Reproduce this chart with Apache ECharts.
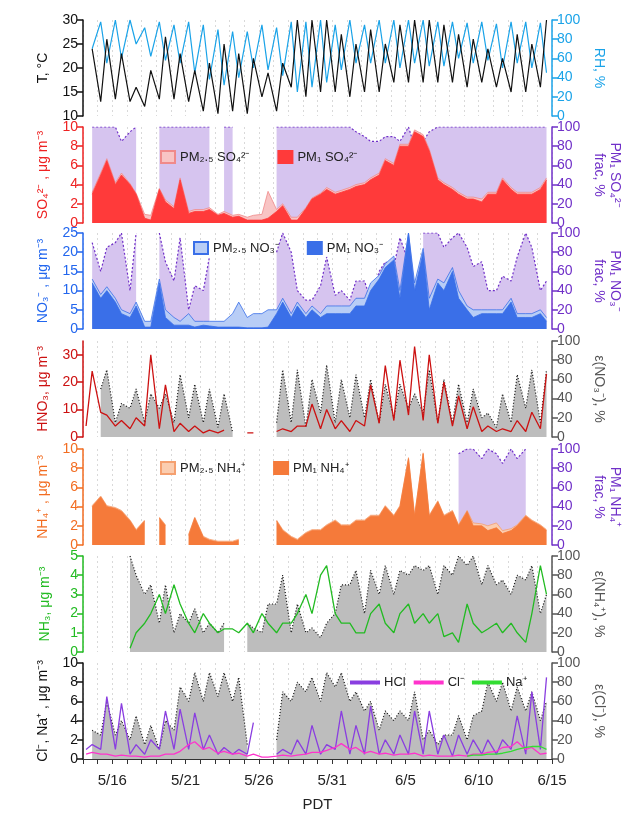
<!DOCTYPE html>
<html><head><meta charset="utf-8">
<script src="https://cdn.jsdelivr.net/npm/echarts@6/dist/echarts.min.js"></script>
<style>html,body{margin:0;padding:0;background:#fff}#c{width:635px;height:814px}</style>
</head><body><div id="c"></div>
<script>
// two samples per day (05:00 and 15:00 PDT), day 0 = 5/14
var tMin  = [null,13,13.5,13,12,13.5,13.5,13,11,10.5,11,10.5,14,11,16,14,15,15,14,15,15,17,17,17,17,17,16,17,16,15,15,16];
var tMax  = [24,26,23,16,19.5,26.5,23,19.5,21,25,23,22,19,21,30,30,30,27,25,28,25,29,30,30,29,27,26,24,22,27,25,30];
var rhMax = [null,98,100,100,92,98,95,98,95,90,88,88,95,92,98,98,100,95,100,95,100,100,100,100,98,98,97,98,96,98,98,97];
var rhMin = [70,55,60,75,62,58,55,45,38,32,40,50,48,42,25,30,35,48,55,55,55,50,55,52,52,60,55,58,50,55,50,45];

var so4A   = [null,5,4,4,0.5,3.5,1.5,1,1.2,0.8,0.6,0.3,0.3,1.2,0.3,1.5,3,3,3.5,4,5,6,8,9,4.5,3.5,2.5,2.2,3,3.5,3,3.5];
var so4B   = [3,6.5,5,3,0.3,2.2,4.5,1.2,1.4,1,0.7,0.3,0.5,1.8,0.3,2.5,3.5,3.2,3.8,4.5,6.5,8,9.5,7.5,4,3,2.5,3,4.5,3,3,4.5];
var so425A = [null,5.2,4.2,4.1,0.9,3.6,1.7,1.2,1.4,0.9,0.8,0.6,0.9,1.4,0.6,1.6,3.1,3.2,3.7,4.2,5.2,6.2,8.2,9.2,4.7,3.7,2.7,2.5,3.2,3.7,3.2,3.7];
var so425B = [3.2,6.7,5.2,3.1,0.8,2.4,4.7,1.4,1.6,1.2,0.9,0.8,3.3,2.0,0.6,2.6,3.7,3.4,4.0,4.7,6.7,8.2,9.7,7.7,4.2,3.2,2.7,3.2,4.7,3.2,3.2,4.7];
var so4FA  = [null,100,100,95,null,100,100,100,100,null,100,null,null,100,100,100,100,100,100,90,85,90,100,85,100,100,100,100,100,100,100,100];
var so4FB  = [100,100,85,100,null,100,100,100,100,100,null,null,null,100,100,100,100,100,95,85,90,85,80,95,100,100,100,100,100,100,100,100];

var no3A   = [null,8,7,3,0.5,12,1,1,1,0.5,0.5,0.3,0.3,4,3,3,3,4,4,6,13,18,25,20,12,15,5,4,4,7,3,4];
var no3B   = [12,10,4,6,0.5,3,1,0.5,0.8,0.5,0.5,0.3,0.5,7,6,5,4,4,6,10,16,8,10,5,10,8,3,4,4,3,3,2];
var no325A = [null,9,8,4,2,13,3,4,2,2,4,3,4,5,4,4,4,6,6,8,14,19,25,21,13,16,6,5,5,8,4,5];
var no325B = [13,11,5,7,2,5,2,2,2,2,7,4,5,8,7,6,6,6,8,12,17,10,12,8,12,10,5,5,5,4,4,3];
var no3FA  = [null,60,90,40,null,100,50,20,40,null,null,null,null,80,80,30,45,35,30,50,60,65,70,100,100,95,85,70,40,50,100,40];
var no3FB  = [90,85,100,100,null,70,95,45,75,60,null,null,null,100,40,30,75,40,50,30,70,95,null,100,85,100,65,40,55,75,85,50];

var hno3A  = [4,9,4,3,4,3,2,2,1.5,1.5,null,1.5,null,2,2,4,3,3,2,4,5,6,8,6,5,4,3,2,2,2,2,3];
var hno3B  = [24,8,6,7,30,19,5,4,2.5,2.5,null,1.5,null,3,4,12,10,6,6,19,26,28,33,30,20,15,11,4,3,6,9,23];
var eNo3A  = [null,50,15,30,15,30,15,20,15,10,5,null,null,15,15,10,25,15,20,20,15,20,30,25,15,15,15,20,10,15,30,15];
var eNo3B  = [null,70,35,50,45,45,65,55,50,45,null,null,null,70,70,60,75,60,65,60,55,55,45,70,60,55,50,25,45,65,70,70];

var nh4A   = [null,5,3.8,2.5,2.5,2.8,null,1,0.8,0.3,0.3,null,null,2.5,0.8,1.2,1.5,2.5,2,2.5,3,3,9,9.5,4.5,3.5,3.5,2,1.8,1.5,3,2];
var nh4B   = [4,4,3.5,1.5,null,2,null,2.8,0.5,0.3,0.5,null,null,1.5,0.5,1.5,2,2,2.5,3,4,4,3,3,3,2,2,1.5,1.2,2,2.5,1.5];
var nh425A = [null,5.1,3.9,2.6,2.6,2.9,null,1.1,0.9,0.4,0.4,null,null,2.6,0.9,1.3,1.6,2.6,2.1,2.6,3.1,3.1,9.1,9.6,4.6,3.6,3.6,2.2,2.3,1.7,3.1,2.1];
var nh425B = [4.1,4.1,3.6,1.6,null,2.1,null,2.9,0.6,0.4,0.6,null,null,1.6,0.6,1.6,2.1,2.1,2.6,3.1,4.1,4.1,3.1,3.1,3.1,2.1,2.3,2,1.5,2.1,2.6,1.6];
var nh4FA  = [null,null,null,null,null,null,null,null,null,null,null,null,null,null,null,null,null,null,null,null,null,null,null,null,null,null,100,90,95,100,100,90];
var nh4FB  = [null,null,null,null,null,null,null,null,null,null,null,null,null,null,null,null,null,null,null,null,null,null,null,null,null,95,100,100,85,90,null,null];

var nh3A   = [null,null,null,0.2,1.5,3,3.5,1.5,2,1,1.2,1.5,2,1,1.5,3,4,2,1.5,1,2.5,1,2.5,2,2,1,2.5,1,1.5,1.5,0.5,4.5];
var nh3B   = [null,null,null,1,2,2,2.5,1,1.5,1.2,1,1,1.5,1.5,2,2,4.5,1.5,1,2,1.5,2,1.5,1.5,0.8,0.5,1.5,1.2,1,1,2,3];
var eNh4A  = [null,null,null,100,60,30,20,30,20,20,null,30,20,50,20,20,15,40,70,40,60,60,80,85,60,80,90,70,70,60,75,40];
var eNh4B  = [null,null,null,80,70,70,40,45,30,30,null,25,50,80,50,25,30,70,85,85,90,85,90,90,90,100,100,90,75,80,90,60];

var hclA   = [1,1,1,0.5,0.5,1,1,1,1,0.5,0.5,0.5,null,0.5,0.5,0.5,0.5,1,0.5,0.5,0.5,0.5,0.5,0.5,0.5,0.3,0.5,0.5,0.5,1,0.5,1];
var hclB   = [1.5,6.5,5.8,1.5,2,5,5.2,4.8,2.5,1.2,1,3.8,null,1,2,3.5,1.5,5,3.5,5.5,2,2.5,5,5,2.5,2.5,2,2,2,4.5,7,8.5];
var clA    = [0.5,0.5,0.3,0.3,0.2,0.3,0.5,1.5,1,0.6,0.5,0.3,0.2,0.3,0.3,0.5,0.7,1.2,1,0.6,0.5,0.4,0.5,0.3,0.3,0.3,0.3,0.5,0.8,1.3,1,0.5];
var clB    = [0.7,0.5,0.4,0.3,0.3,0.5,0.8,1.8,1.2,0.8,0.6,0.5,0.2,0.4,0.4,0.7,0.9,1.6,1.2,0.8,0.6,0.5,0.6,0.4,0.3,0.4,0.5,0.7,1.2,1.8,1.2,0.6];
var naA    = [null,null,null,null,null,null,null,null,null,null,null,null,null,null,null,null,null,null,null,null,null,null,null,null,null,null,0.3,0.4,0.5,0.8,1.2,1.3];
var naB    = [null,null,null,null,null,null,null,null,null,null,null,null,null,null,null,null,null,null,null,null,null,null,null,null,null,null,0.4,0.5,0.6,1.0,1.3,1.0];
var eClA   = [null,25,25,20,15,10,30,60,60,65,60,15,null,20,60,70,60,75,60,50,30,40,40,20,15,25,20,50,60,50,50,40];
var eClB   = [30,60,40,45,35,40,75,90,90,90,85,null,null,70,80,85,90,90,70,60,50,50,70,30,25,45,45,80,80,75,70,60];

var DAY = 86400000;
var T0 = Date.UTC(2020, 4, 14), T1 = Date.UTC(2020, 5, 15);

function pairs(a, b) {
  var out = [];
  for (var i = 0; i < a.length; i++) {
    out.push([T0 + i * DAY + 5 * 3600000, a[i]]);
    out.push([T0 + i * DAY + 15 * 3600000, b[i]]);
  }
  return out;
}

var tops = [20, 127, 233, 341, 449, 556, 663];
var H = 96;
var grids = tops.map(function (t) { return { left: 83, right: 83, top: t, height: H }; });

var xAxes = tops.map(function (t, i) {
  var last = i === tops.length - 1;
  return {
    type: 'value', gridIndex: i, min: T0, max: T1, interval: DAY,
    axisLine: { show: last, lineStyle: { color: '#333' } },
    axisTick: { show: last, length: 5, lineStyle: { color: '#333' } },
    axisLabel: {
      show: last, fontSize: 15, color: '#222', margin: 14, fontFamily: 'Liberation Sans',
      formatter: function (v) {
        var k = Math.round((v - T0) / DAY);
        if ((k - 2) % 5 !== 0 || k < 2) return '';
        var d = new Date(v);
        return (d.getUTCMonth() + 1) + '/' + d.getUTCDate();
      }
    },
    splitLine: { show: true, lineStyle: { color: '#cfcfcf', type: [2, 3], width: 0.8 } },
    name: last ? 'PDT' : '', nameLocation: 'middle', nameGap: 38,
    nameTextStyle: { fontSize: 15, color: '#222', fontFamily: 'Liberation Sans' }
  };
});

function yAx(i, pos, min, max, step, color, name) {
  return {
    type: 'value', gridIndex: i, position: pos, min: min, max: max, interval: step,
    axisLine: { show: true, lineStyle: { color: color, width: 1.5 } },
    axisTick: { show: true, length: 6, lineStyle: { color: color, width: 1.5 } },
    axisLabel: { color: color, fontSize: 14, fontFamily: 'Liberation Sans', margin: 5, showMaxLabel: max % step === 0 },
    splitLine: { show: false },
    name: name, nameLocation: 'middle', nameGap: pos === 'left' ? 30 : 38,
    nameRotate: pos === 'left' ? 90 : -90,
    nameTextStyle: { color: color, fontSize: 14, fontFamily: 'Liberation Sans', lineHeight: 16 }
  };
}

var PUR = '#7030c8', LAV = '#d6c4ef', GR = '#555555', GA = '#bdbdbd';
var yAxes = [
  yAx(0, 'left', 10, 30, 5, '#111', 'T, °C'),
  yAx(0, 'right', 0, 100, 20, '#1aa3e8', 'RH, %'),
  yAx(1, 'left', 0, 10, 2, '#ee2222', 'SO₄²⁻ , μg m⁻³'),
  yAx(1, 'right', 0, 100, 20, PUR, 'PM₁ SO₄²⁻\nfrac, %'),
  yAx(2, 'left', 0, 25, 5, '#2266ee', 'NO₃⁻ , μg m⁻³'),
  yAx(2, 'right', 0, 100, 20, PUR, 'PM₁ NO₃⁻\nfrac, %'),
  yAx(3, 'left', 0, 35, 10, '#cc1111', 'HNO₃, μg m⁻³'),
  yAx(3, 'right', 0, 100, 20, GR, 'ε(NO₃⁻), %'),
  yAx(4, 'left', 0, 10, 2, '#f26d22', 'NH₄⁺ , μg m⁻³'),
  yAx(4, 'right', 0, 100, 20, PUR, 'PM₁ NH₄⁺\nfrac, %'),
  yAx(5, 'left', 0, 5, 1, '#22bb22', 'NH₃, μg m⁻³'),
  yAx(5, 'right', 0, 100, 20, GR, 'ε(NH₄⁺), %'),
  yAx(6, 'left', 0, 10, 2, '#111', 'Cl⁻, Na⁺ , μg m⁻³'),
  yAx(6, 'right', 0, 100, 20, GR, 'ε(Cl⁻), %')
];

function line(name, xi, yi, data, color, w, type, area, z) {
  var s = {
    name: name, type: 'line', xAxisIndex: xi, yAxisIndex: yi, data: data,
    showSymbol: false, symbol: 'none', smooth: false, z: z || 2,
    lineStyle: { color: color, width: w, type: type || 'solid' },
    itemStyle: { color: area || color, borderColor: color, borderWidth: 1 }
  };
  if (area) s.areaStyle = { color: area, opacity: 1 };
  return s;
}

var series = [
  line('RH', 0, 1, pairs(rhMax, rhMin), '#1aa3e8', 1.2),
  line('T', 0, 0, pairs(tMin, tMax), '#111', 1.2),

  line('fs', 1, 3, pairs(so4FA, so4FB), PUR, 1.2, [2, 2], LAV, 1),
  line('PM₂.₅ SO₄²⁻', 1, 2, pairs(so425A, so425B), '#f08a8a', 0.8, 'solid', '#f8c4c4', 2),
  line('PM₁ SO₄²⁻', 1, 2, pairs(so4A, so4B), '#ff3a3a', 0.8, 'solid', '#ff3a3a', 3),

  line('fn', 2, 5, pairs(no3FA, no3FB), PUR, 1.2, [2, 2], LAV, 1),
  line('PM₂.₅ NO₃⁻', 2, 4, pairs(no325A, no325B), '#3a6fe8', 0.8, 'solid', '#b8cdf6', 2),
  line('PM₁ NO₃⁻', 2, 4, pairs(no3A, no3B), '#3a6fe8', 0.8, 'solid', '#3a6fe8', 3),

  line('eno3', 3, 7, pairs(eNo3A, eNo3B), '#111', 1.2, [1, 2], GA, 1),
  line('HNO3', 3, 6, pairs(hno3A, hno3B), '#cc1111', 1.3, 'solid', null, 3),

  line('fa', 4, 9, pairs(nh4FA, nh4FB), PUR, 1.2, [2, 2], LAV, 1),
  line('PM₂.₅ NH₄⁺', 4, 8, pairs(nh425A, nh425B), '#f5a070', 0.8, 'solid', '#fbcdb0', 2),
  line('PM₁ NH₄⁺', 4, 8, pairs(nh4A, nh4B), '#f57a3a', 0.8, 'solid', '#f57a3a', 3),

  line('enh4', 5, 11, pairs(eNh4A, eNh4B), '#111', 1.2, [1, 2], GA, 1),
  line('NH3', 5, 10, pairs(nh3A, nh3B), '#22bb22', 1.3, 'solid', null, 3),

  line('ecl', 6, 13, pairs(eClA, eClB), '#111', 1.2, [1, 2], GA, 1),
  line('HCl', 6, 12, pairs(hclA, hclB), '#8a3ee0', 1.3, 'solid', null, 3),
  line('Cl⁻', 6, 12, pairs(clA, clB), '#ff33cc', 1.3, 'solid', null, 4),
  line('Na⁺', 6, 12, pairs(naA, naB), '#33dd33', 1.3, 'solid', null, 4)
];

function leg(names, left, top, isLine) {
  return {
    data: names, left: left, top: top, itemGap: isLine ? 8 : 28,
    itemWidth: isLine ? 28 : 14, itemHeight: isLine ? 2 : 12, icon: 'rect', selectedMode: false,
    textStyle: { fontSize: 13, color: '#222', fontFamily: 'Liberation Sans' }
  };
}

var chart = echarts.init(document.getElementById('c'));
chart.setOption({
  animation: false,
  backgroundColor: '#fff',
  grid: grids, xAxis: xAxes, yAxis: yAxes, series: series,
  legend: [
    leg(['PM₂.₅ SO₄²⁻', 'PM₁ SO₄²⁻'], 155, 145),
    leg(['PM₂.₅ NO₃⁻', 'PM₁ NO₃⁻'], 188, 236),
    leg(['PM₂.₅ NH₄⁺', 'PM₁ NH₄⁺'], 155, 456),
    leg(['HCl', 'Cl⁻', 'Na⁺'], 345, 671, true)
  ]
});
</script>
</body></html>
